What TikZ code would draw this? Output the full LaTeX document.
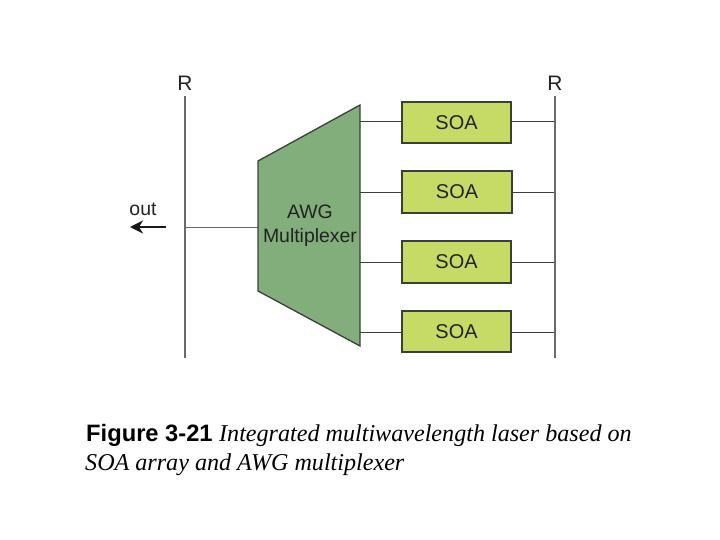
\documentclass[tikz,border=0pt]{standalone}
\usepackage{fontspec}
\setmainfont{Liberation Sans}
\newfontfamily\capserif{Liberation Serif}
\usetikzlibrary{arrows.meta}
\definecolor{awgfill}{HTML}{82AE7B}
\definecolor{soafill}{HTML}{C6DA66}
\definecolor{darkline}{HTML}{3A4036}
\definecolor{busline}{HTML}{6A6A6A}
\definecolor{labeltext}{HTML}{222222}
\tikzset{
  soabox/.style={draw=darkline,line width=1.3pt,fill=soafill,minimum width=109bp,minimum height=41bp,inner sep=0pt,text=labeltext,font=\fontsize{20}{20}\selectfont},
  awgshape/.style={draw=darkline,line width=1.3pt,fill=awgfill,line join=miter},
  awgtext/.style={align=center,text=labeltext,font=\fontsize{19.5}{24}\selectfont,inner sep=0pt},
  busbar/.style={draw=busline,line width=1.7pt},
  link/.style={draw=darkline,line width=1.0pt},
  outlink/.style={draw=busline,line width=1.0pt},
  rlabel/.style={text=labeltext,font=\fontsize{21}{21}\selectfont,inner sep=0pt},
  outlabel/.style={text=labeltext,font=\fontsize{19.5}{20}\selectfont,inner sep=0pt},
  outarrow/.style={draw=black!90,line width=1.8pt,-{Stealth[length=13bp,width=13bp,inset=4bp]}},
  capbold/.style={anchor=base west,inner sep=0pt,text=black,font=\fontsize{23.8}{26}\selectfont},
  capital/.style={anchor=base west,inner sep=0pt,text=black,font=\fontsize{24.2}{26}\selectfont\capserif\itshape}
}
\begin{document}
\begin{tikzpicture}[x=1bp,y=-1bp]
\useasboundingbox[fill=white] (0,0) rectangle (720,540);
\coordinate (Ltop) at (185,96);
\coordinate (Lbot) at (185,358);
\coordinate (Rtop) at (555,96);
\coordinate (Rbot) at (555,358);
\coordinate (Ljoin) at (185,227);
\coordinate (Tin) at (258,227);
\coordinate (T1) at (360,122);
\coordinate (T2) at (360,192);
\coordinate (T3) at (360,262);
\coordinate (T4) at (360,332);
\coordinate (R1) at (555,122);
\coordinate (R2) at (555,192);
\coordinate (R3) at (555,262);
\coordinate (R4) at (555,332);
\coordinate (outS) at (166,227);
\coordinate (outE) at (130,227);
\node[soabox] (s1) at (456.5,122.5) {SOA};
\node[soabox,minimum width=110bp,minimum height=42bp] (s2) at (457,192) {SOA};
\node[soabox,minimum height=42bp] (s3) at (456.5,262) {SOA};
\node[soabox] (s4) at (456.5,331.5) {SOA};
\foreach \i in {1,2,3,4}{
  \draw[link] (T\i) -- (T\i -| s\i.west);
  \draw[link] (R\i -| s\i.east) -- (R\i);
}
\draw[outlink] (Ljoin) -- (Tin);
\draw[busbar] (Ltop) -- (Lbot);
\draw[busbar] (Rtop) -- (Rbot);
\draw[awgshape] (258,161) -- (360,105) -- (360,346) -- (258,291) -- cycle;
\node[awgtext] (awg) at (310,225.5) {AWG\\Multiplexer};
\node[rlabel] (rl) at (185,83) {R};
\node[rlabel] (rr) at (555,83) {R};
\node[outlabel] (outl) at (143,209) {out};
\draw[outarrow] (outS) -- (outE);
\node[capbold] (c1a) at (86,441) {\textbf{Figure 3-21}};
\node[capital] (c1b) at (219,441) {Integrated multiwavelength laser based on};
\node[capital] (c2) at (85,470) {SOA array and AWG multiplexer};
\end{tikzpicture}
\end{document}
